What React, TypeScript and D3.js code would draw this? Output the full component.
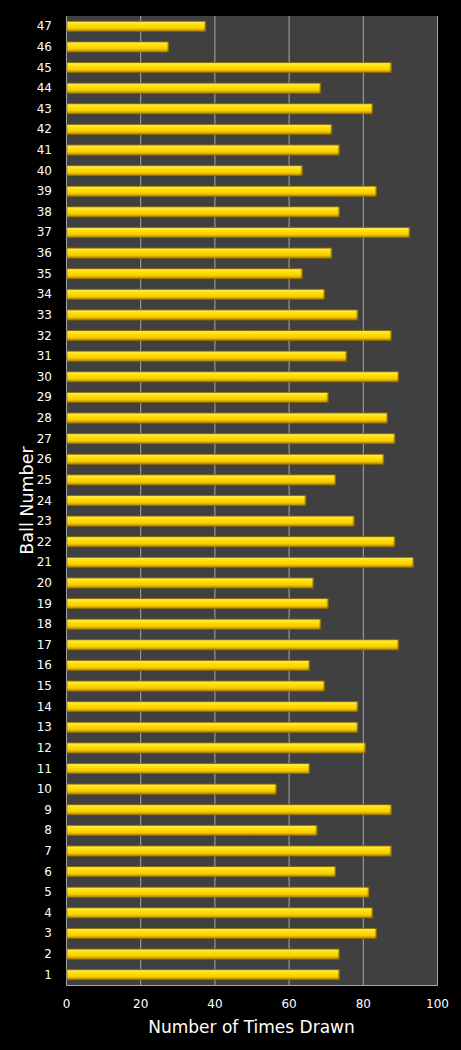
import React from "react";
import * as d3 from "d3";

const balls: string[] = Array.from({ length: 47 }, (_, i) => String(i + 1));
const timesDrawn: number[] = [
  73, 73, 83, 82, 81, 72, 87, 67, 87, 56,
  65, 80, 78, 78, 69, 65, 89, 68, 70, 66,
  93, 88, 77, 64, 72, 85, 88, 86, 70, 89,
  75, 87, 78, 69, 63, 71, 92, 73, 83, 63,
  73, 71, 82, 68, 87, 27, 37,
];
const xTicks: number[] = [0, 20, 40, 60, 80, 100];
const xTitle = "Number of Times Drawn";
const yTitle = "Ball Number";

const W = 461;
const H = 1050;
const M = { left: 66, right: 24, top: 16, bottom: 65 };

export default function App() {
  const x = d3.scaleLinear().domain([0, 100]).range([M.left, W - M.right]);
  const y = d3
    .scaleBand<string>()
    .domain([...balls].reverse())
    .range([M.top, H - M.bottom])
    .paddingInner(0.5)
    .paddingOuter(0.25);
  const font = "'DejaVu Sans', Verdana, sans-serif";
  const pw = x(100) - x(0);
  const ph = H - M.bottom - M.top;
  return (
    <svg
      width={W}
      height={H}
      style={{ position: "absolute", left: 0, top: 0, display: "block" }}
    >
      <defs>
        <linearGradient id="barG" x1="0" y1="0" x2="0" y2="1">
          <stop offset="0%" stopColor="#B89000" />
          <stop offset="12%" stopColor="#FFE84A" />
          <stop offset="35%" stopColor="#FFE000" />
          <stop offset="70%" stopColor="#F7CB00" />
          <stop offset="100%" stopColor="#A87C00" />
        </linearGradient>
        <linearGradient id="capG" x1="0" y1="0" x2="1" y2="0">
          <stop offset="0%" stopColor="#000" stopOpacity="0" />
          <stop offset="100%" stopColor="#7A5A00" stopOpacity="0.55" />
        </linearGradient>
      </defs>
      <rect x={0} y={0} width={W} height={H} fill="#000" />
      <rect x={x(0)} y={M.top} width={pw} height={ph} fill="#404040" />
      {xTicks.map((t) => (
        <line
          key={"g" + t}
          x1={x(t) + 0.5}
          x2={x(t) + 0.5}
          y1={M.top}
          y2={H - M.bottom}
          stroke="#A6A6A6"
          strokeWidth={1}
        />
      ))}
      <line
        x1={x(0)}
        x2={x(100) + 1}
        y1={H - M.bottom + 0.5}
        y2={H - M.bottom + 0.5}
        stroke="#A6A6A6"
      />
      {balls.map((b, i) => {
        const yy = y(b) as number;
        const bw = x(timesDrawn[i]) - x(0) + 1.5;
        return (
          <g key={b}>
            <rect
              x={x(0) + 1}
              y={yy}
              width={bw}
              height={y.bandwidth()}
              fill="url(#barG)"
              stroke="#8A6A00"
              strokeWidth={0.6}
            />
            <rect
              x={x(0) + 1 + bw - 2}
              y={yy}
              width={2}
              height={y.bandwidth()}
              fill="url(#capG)"
            />
          </g>
        );
      })}
      {balls.map((b) => (
        <text
          key={"yl" + b}
          x={52}
          y={(y(b) as number) + y.bandwidth() / 2}
          textAnchor="end"
          dominantBaseline="central"
          fill="#fff"
          fontFamily={font}
          fontSize={12}
        >
          {b}
        </text>
      ))}
      {xTicks.map((t) => (
        <text
          key={"xl" + t}
          x={x(t) + 0.5}
          y={1004}
          textAnchor="middle"
          dominantBaseline="central"
          fill="#fff"
          fontFamily={font}
          fontSize={12}
        >
          {t}
        </text>
      ))}
      <text
        x={(x(0) + x(100)) / 2}
        y={1027}
        textAnchor="middle"
        dominantBaseline="central"
        fill="#fff"
        fontFamily={font}
        fontSize={17}
      >
        {xTitle}
      </text>
      <text
        transform={`translate(27,${(M.top + H - M.bottom) / 2}) rotate(-90)`}
        textAnchor="middle"
        dominantBaseline="central"
        fill="#fff"
        fontFamily={font}
        fontSize={17.5}
      >
        {yTitle}
      </text>
    </svg>
  );
}
